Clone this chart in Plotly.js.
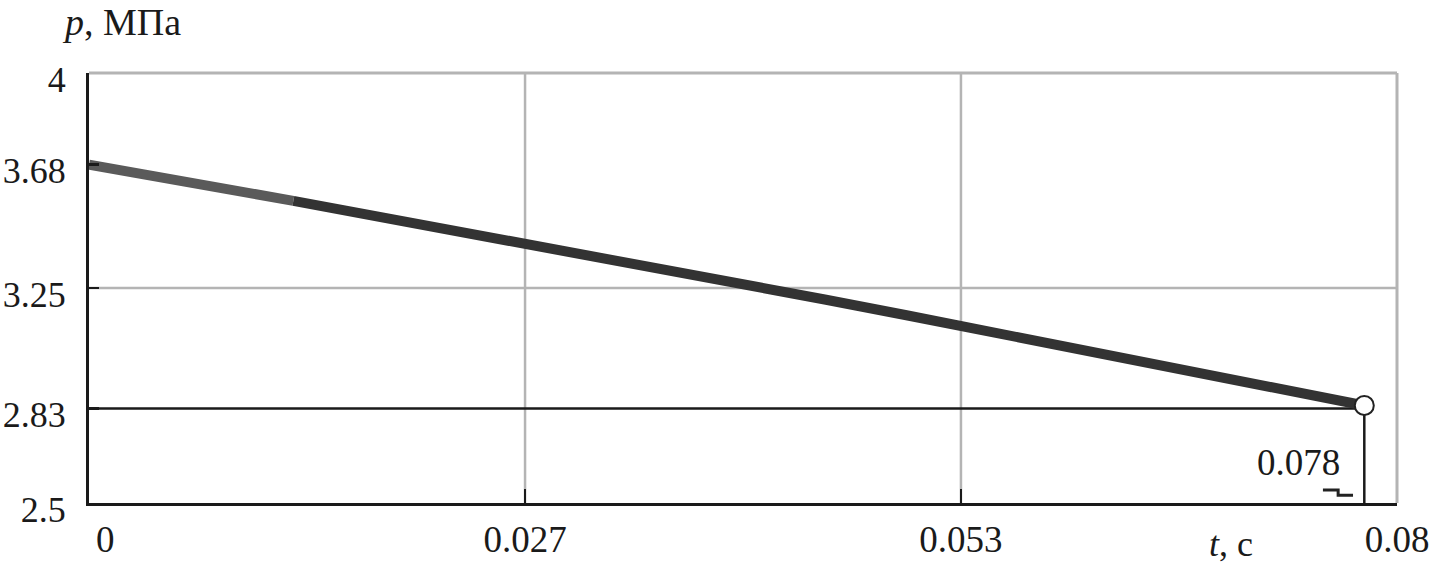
<!DOCTYPE html>
<html>
<head>
<meta charset="utf-8">
<script src="https://cdn.plot.ly/plotly-3.0.1.min.js"></script>
<style>html,body{margin:0;padding:0;background:#fff;}#chart{width:1432px;height:565px;}</style>
</head>
<body>
<div id="chart"></div>
<script>
// ---- data ----
const timeEarly = [0, 0.005, 0.01, 0.0125];
const pressureEarly = [3.68, 3.63, 3.58, 3.554];
const timeLate = [0.0125, 0.015, 0.02, 0.025, 0.03, 0.035, 0.04, 0.045, 0.05, 0.055, 0.06, 0.065, 0.07, 0.075, 0.078];
const pressureLate = [3.554, 3.528, 3.477, 3.425, 3.372, 3.318, 3.265, 3.21, 3.155, 3.10, 3.043, 2.987, 2.93, 2.872, 2.84];

const markerTime = 0.078;
const markerPressure = 2.84;
const levelPressure = 2.83;
const levelLabel = "0.078";

const xTickVals = [0, 0.02667, 0.05333, 0.08];
const xTickText = ["", "0.027", "0.053", "0.08"];
const xZeroLabel = "0";
const yTickVals = [2.5, 2.83, 3.25, 3.68, 4];
const yTickText = ["2.5", "2.83", "3.25", "3.68", "4"];
const xGrid = [0.02667, 0.05333];
const yGrid = [3.25];
const xRange = [0, 0.08];
const yRange = [2.5, 4];
const yTitle = "<i>p</i>, МПа";
const xTitle = "<i>t</i>, с";
const stubT = [0.07547, 0.07640, 0.07640, 0.07731];
const stubP = [2.5455, 2.5455, 2.527, 2.527];

const FONT = "Liberation Serif, Times New Roman, serif";
const GRID = "#b4b4b4";

const traces = [
  { x: [xRange[0], markerTime], y: [levelPressure, levelPressure], mode: "lines",
    line: { color: "#1a1a1a", width: 2.5 }, hoverinfo: "skip" },
  { x: [markerTime, markerTime], y: [levelPressure, yRange[0]], mode: "lines",
    line: { color: "#1a1a1a", width: 2.5 }, hoverinfo: "skip" },
  { x: timeEarly, y: pressureEarly, mode: "lines",
    line: { color: "#5a5a5a", width: 10 } },
  { x: timeLate, y: pressureLate, mode: "lines",
    line: { color: "#333333", width: 10 } },
  { x: stubT, y: stubP, mode: "lines", line: { color: "#222", width: 3 }, hoverinfo: "skip" },
  { x: [markerTime], y: [markerPressure], mode: "markers",
    marker: { size: 19, color: "#ffffff", line: { color: "#222", width: 2 } } }
];

const shapes = [];
xGrid.forEach(v => shapes.push({ type: "line", xref: "x", yref: "paper", x0: v, x1: v, y0: 0, y1: 1,
  line: { color: GRID, width: 2.5 }, layer: "below" }));
yGrid.forEach(v => shapes.push({ type: "line", xref: "paper", yref: "y", x0: 0, x1: 1, y0: v, y1: v,
  line: { color: GRID, width: 2.5 }, layer: "below" }));
// frame (top and right) in gray
shapes.push({ type: "line", xref: "paper", yref: "paper", x0: 0, x1: 1, y0: 1, y1: 1, line: { color: GRID, width: 3 }, layer: "below" });
shapes.push({ type: "line", xref: "paper", yref: "paper", x0: 1, x1: 1, y0: 0, y1: 1, line: { color: GRID, width: 3 }, layer: "below" });

const layout = {
  width: 1432, height: 565,
  margin: { l: 89, r: 35, t: 73, b: 62 },
  paper_bgcolor: "#ffffff", plot_bgcolor: "#ffffff",
  showlegend: false,
  font: { family: FONT, size: 36, color: "#1a1a1a" },
  xaxis: {
    range: xRange, tickmode: "array", tickvals: xTickVals, ticktext: xTickText,
    showgrid: false, zeroline: false, showline: true, linecolor: "#1a1a1a", linewidth: 3,
    ticks: "inside", ticklen: 14, tickwidth: 2.5, tickcolor: "#1a1a1a",
    ticklabelstandoff: 2,
    tickfont: { family: FONT, size: 37, color: "#1a1a1a" }
  },
  yaxis: {
    range: yRange, tickmode: "array", tickvals: yTickVals, ticktext: yTickText,
    showgrid: false, zeroline: false, showline: true, linecolor: "#1a1a1a", linewidth: 3,
    ticks: "inside", ticklen: 10, tickwidth: 2.5, tickcolor: "#1a1a1a",
    ticklabelstandoff: 13, ticklabelshift: 6,
    tickfont: { family: FONT, size: 36, color: "#1a1a1a" }
  },
  shapes: shapes,
  annotations: [
    { text: yTitle, xref: "paper", yref: "paper", x: -0.022, y: 1.0, yshift: 51, xanchor: "left", yanchor: "middle",
      showarrow: false, font: { family: FONT, size: 38, color: "#1a1a1a" } },
    { text: xTitle, xref: "paper", yref: "paper", x: 0.873, y: 0, yshift: -41, xanchor: "center", yanchor: "middle",
      showarrow: false, font: { family: FONT, size: 36, color: "#1a1a1a" } },
    { text: xZeroLabel, xref: "x", yref: "paper", x: 0, y: 0, yshift: -36, xshift: 16, xanchor: "center", yanchor: "middle",
      showarrow: false, font: { family: FONT, size: 37, color: "#1a1a1a" } },
    { text: levelLabel, xref: "x", yref: "y", x: markerTime, y: 2.643, xanchor: "right", yanchor: "middle", xshift: -22,
      showarrow: false, font: { family: FONT, size: 37, color: "#1a1a1a" } }
  ]
};

Plotly.newPlot("chart", traces, layout, { staticPlot: true, displayModeBar: false });
</script>
</body>
</html>
